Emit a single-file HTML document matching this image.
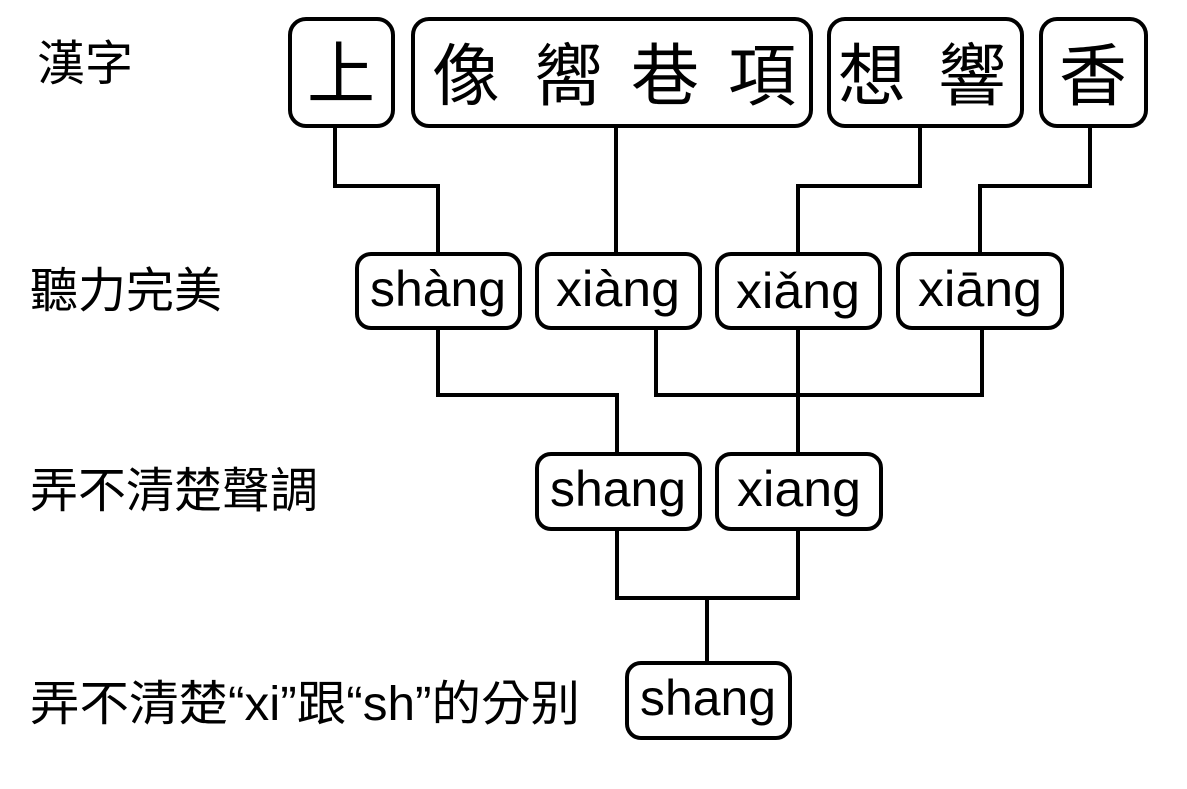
<!DOCTYPE html>
<html><head><meta charset="utf-8"><style>
html,body{margin:0;padding:0;background:#fff;}
svg{display:block;}
text{font-family:"Liberation Sans","Noto Sans CJK TC",sans-serif;fill:#000;}
</style></head><body>
<svg width="1187" height="789" viewBox="0 0 1187 789" xmlns="http://www.w3.org/2000/svg">
<g fill="none" stroke="#000" stroke-width="4">
<rect x="290" y="19" width="103" height="107" rx="16"/>
<rect x="413" y="19" width="398" height="107" rx="16"/>
<rect x="829" y="19" width="193" height="107" rx="16"/>
<rect x="1041" y="19" width="105" height="107" rx="16"/>
<rect x="357" y="254" width="163" height="74" rx="14"/>
<rect x="537" y="254" width="163" height="74" rx="14"/>
<rect x="717" y="254" width="163" height="74" rx="14"/>
<rect x="898" y="254" width="164" height="74" rx="14"/>
<rect x="537" y="454" width="163" height="75" rx="14"/>
<rect x="717" y="454" width="164" height="75" rx="14"/>
<rect x="627" y="663" width="163" height="75" rx="14"/>
<polyline points="335,126 335,186 438,186 438,254"/>
<line x1="616" y1="126" x2="616" y2="254"/>
<polyline points="920,126 920,186 798,186 798,254"/>
<polyline points="1090,126 1090,186 980,186 980,254"/>
<polyline points="438,328 438,395 617,395 617,454"/>
<polyline points="656,328 656,395 982,395 982,328"/>
<line x1="798" y1="328" x2="798" y2="454"/>
<polyline points="617,529 617,598 798,598 798,529"/>
<line x1="707" y1="598" x2="707" y2="663"/>
</g>
<g font-size="68" text-anchor="middle">
<text x="341" y="98">上</text>
<text x="466" y="100">像</text>
<text x="568" y="100">嚮</text>
<text x="665" y="100">巷</text>
<text x="762" y="100">項</text>
<text x="872" y="100">想</text>
<text x="972" y="100">響</text>
<text x="1093" y="100">香</text>
</g>
<g font-size="50" text-anchor="middle">
<text x="438" y="306" textLength="136" lengthAdjust="spacingAndGlyphs">shàng</text>
<text x="618" y="306" textLength="124" lengthAdjust="spacingAndGlyphs">xiàng</text>
<text x="798" y="308" textLength="124" lengthAdjust="spacingAndGlyphs">xiǎng</text>
<text x="980" y="306" textLength="124" lengthAdjust="spacingAndGlyphs">xiāng</text>
<text x="618" y="506" textLength="136" lengthAdjust="spacingAndGlyphs">shang</text>
<text x="799" y="506" textLength="124" lengthAdjust="spacingAndGlyphs">xiang</text>
<text x="708" y="715" textLength="136" lengthAdjust="spacingAndGlyphs">shang</text>
</g>
<g font-size="48">
<text x="37" y="80">漢字</text>
<text x="30" y="307">聽力完美</text>
<text x="30" y="507">弄不清楚聲調</text>
<text x="30" y="720" textLength="550" lengthAdjust="spacingAndGlyphs">弄不清楚“xi”跟“sh”的分别</text>
</g>
</svg>
</body></html>
